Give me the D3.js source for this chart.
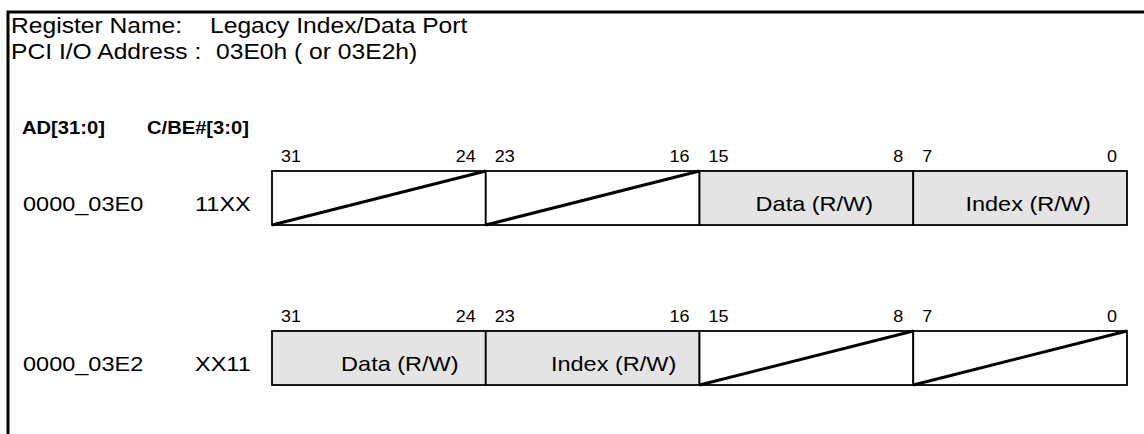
<!DOCTYPE html>
<html>
<head>
<meta charset="utf-8">
<script src="https://cdn.jsdelivr.net/npm/d3@7"></script>
<style>
	body { margin: 0; background: #fff; }
	text { font-family: "Liberation Sans", Arial, sans-serif; fill: #000; }
</style>
</head>
<body>
<div id="register-container"></div>
<script>
// register layout data
var headerNames = ["Register Name:", "PCI I/O Address :"];
var headerValues = ["Legacy Index/Data Port", "03E0h ( or 03E2h)"];
var columnTitles = ["AD[31:0]", "C/BE#[3:0]"];
var addresses = ["0000_03E0", "0000_03E2"];
var byteEnables = ["11XX", "XX11"];
var bitHigh = [31, 23, 15, 7];
var bitLow = [24, 16, 8, 0];
var bytes = [0, 1, 2, 3];
// one entry per byte lane, null = reserved (crossed out)
var row0Fields = [null, null, "Data (R/W)", "Index (R/W)"];
var row1Fields = ["Data (R/W)", "Index (R/W)", null, null];
var rowFields = [row0Fields, row1Fields];

var fullWidth = 1144,
    fullHeight = 434,
    boxHeight = 54,
    sx = 1.12; // text in the source is stretched a bit horizontally

var svg = d3.select("#register-container").append("svg")
	.attr("width", fullWidth)
	.attr("height", fullHeight);

// byte lanes across, rows down
var xScale = d3.scaleBand()
	.domain(bytes)
	.range([272, 1127]);

var yScale = d3.scaleLinear()
	.domain([0, 1])
	.range([171, 331]);

function stretched(sel, x, y) {
	return sel.attr("transform", "translate(" + x + "," + y + ") scale(" + sx + ",1)");
}

// outer frame (only top and left visible)
svg.append("path")
	.attr("d", "M8," + fullHeight + "V12H" + fullWidth)
	.attr("fill", "none")
	.attr("stroke", "#000")
	.attr("stroke-width", 3);

// header lines
headerNames.forEach(function(d, i) {
	stretched(svg.append("text"), 11, 33 + i * 26)
		.style("font-size", "22px")
		.text(d);
	stretched(svg.append("text"), i === 0 ? 210 : 216, 33 + i * 26)
		.style("font-size", "22px")
		.text(headerValues[i]);
});

// column titles
columnTitles.forEach(function(d, i) {
	stretched(svg.append("text"), i === 0 ? 22 : 147, 134)
		.style("font-size", "18px")
		.style("font-weight", "bold")
		.text(d);
});

// labels sit a little right of the lane centre
var labelShift = [8, 21];

var rows = svg.selectAll(".row")
	.data(rowFields)
	.enter().append("g")
	.attr("class", "row")
	.attr("transform", function(d, i) { return "translate(0," + yScale(i) + ")"; });

rows.each(function(fields, r) {
	var row = d3.select(this);

	stretched(row.append("text"), 23, 40)
		.style("font-size", "21px")
		.text(addresses[r]);

	stretched(row.append("text"), 195, 40)
		.style("font-size", "21px")
		.text(byteEnables[r]);

	// bit numbers above each lane
	bytes.forEach(function(b) {
		stretched(row.append("text"), xScale(b) + 9, -9)
			.style("font-size", "16px")
			.text(bitHigh[b]);
		stretched(row.append("text"), xScale(b) + xScale.bandwidth() - 10, -9)
			.style("font-size", "16px")
			.attr("text-anchor", "end")
			.text(bitLow[b]);
	});

	row.selectAll(".cell")
		.data(fields)
		.enter().append("rect")
		.attr("class", "cell")
		.attr("x", function(d, i) { return xScale(i); })
		.attr("y", 0)
		.attr("width", xScale.bandwidth())
		.attr("height", boxHeight)
		.attr("fill", function(d) { return d ? "#e4e4e4" : "#fff"; })
		.attr("stroke", "#000")
		.attr("stroke-width", 1.8);

	// field name, or a diagonal through reserved lanes
	fields.forEach(function(d, i) {
		if (d) {
			stretched(row.append("text"), xScale(i) + xScale.bandwidth() / 2 + labelShift[r], 40)
				.style("font-size", "21px")
				.attr("text-anchor", "middle")
				.text(d);
		} else {
			row.append("line")
				.attr("x1", xScale(i))
				.attr("y1", boxHeight)
				.attr("x2", xScale(i) + xScale.bandwidth())
				.attr("y2", 0)
				.attr("stroke", "#000")
				.attr("stroke-width", 3);
		}
	});
});
</script>
</body>
</html>
